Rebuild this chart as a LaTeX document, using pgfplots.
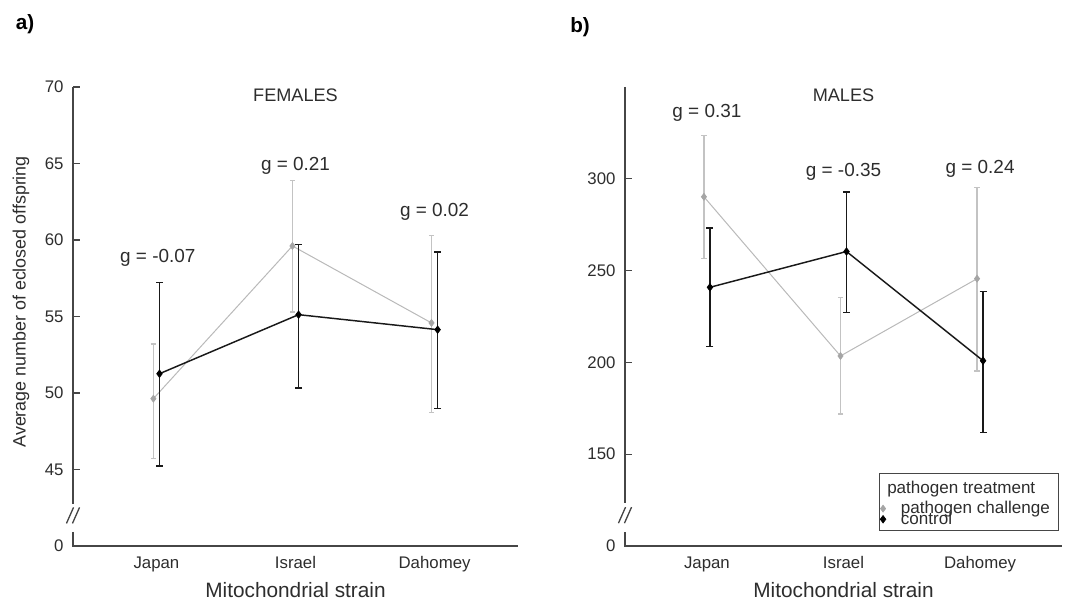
\documentclass[border=0pt]{standalone}
\usepackage{pgfplots}
\pgfplotsset{compat=1.18}
\usepackage{pgfplotstable}
\usepackage{fontspec}
\setmainfont{Liberation Sans}
\definecolor{gline}{RGB}{185,185,185}
\definecolor{gmark}{RGB}{165,165,165}
\definecolor{gerr}{RGB}{195,195,195}
\definecolor{kline}{RGB}{25,25,25}
\definecolor{axcol}{RGB}{70,70,70}
\definecolor{txt}{RGB}{45,45,45}

% females, pathogen challenge
\pgfplotstableread{
x y ep em
0.978 49.63 3.57 3.89
1.978 59.61 4.26 4.31
2.978 54.58 5.73 5.83
}\fpath
% females, control
\pgfplotstableread{
x y ep em
1.022 51.26 5.96 6.04
2.022 55.12 4.58 4.80
3.022 54.14 5.08 5.17
}\fctrl
% males, pathogen challenge
\pgfplotstableread{
x y ep em
0.978 290.2 33.2 33.4
1.978 203.5 31.8 31.6
2.978 245.6 49.7 50.3
}\mpath
% males, control
\pgfplotstableread{
x y ep em
1.022 240.9 32.2 32.3
2.022 260.4 32.3 33.1
3.022 200.9 37.7 39.0
}\mctrl

\tikzset{
  glab/.style={font=\fontsize{14.2}{16}\selectfont, text=txt},
  ptitle/.style={font=\fontsize{13.6}{16}\selectfont, text=txt},
}

\pgfplotsset{
  panel/.style={
    scale only axis, height=344.25pt,
    xmin=0.4, xmax=3.6, xtick={1,2,3}, xticklabels={Japan,Israel,Dahomey},
    axis line style={draw=none},
    ytick pos=left, tick align=inside,
    x tick style={draw=none},
    major tick length=5pt,
    y tick style={axcol, line width=0.8pt},
    clip=false,
    /pgf/number format/assume math mode=true,
    tick label style={font=\fontsize{12.6}{14}\selectfont, text=txt},
    xticklabel style={anchor=base, yshift=-17.25pt},
    yticklabel style={anchor=east, xshift=-3.6pt},
    xlabel={Mitochondrial strain},
    xlabel style={font=\fontsize{15.6}{18}\selectfont, text=txt, at={(axis description cs:0.5,-0.096)}, anchor=center},
  },
  gser/.style={color=gline, line width=0.75pt, mark=diamond*, mark size=2.6pt,
    mark options={draw=gmark, fill=gmark, line width=0.5pt},
    legend image code/.code={\draw[##1, only marks] plot coordinates {(2.6pt,0pt)};},
    error bars/.cd, y dir=both, y explicit,
    error bar style={gerr, line width=0.9pt},
    error mark options={rotate=90, gerr, mark size=2pt, line width=0.9pt}},
  kser/.style={color=kline, line width=1.1pt, mark=diamond*, mark size=2.8pt,
    mark options={draw=black, fill=black, line width=0.5pt},
    legend image code/.code={\draw[##1, only marks] plot coordinates {(2.6pt,0.4pt)};},
    error bars/.cd, y dir=both, y explicit,
    error bar style={kline, line width=1.1pt},
    error mark options={rotate=90, kline, mark size=2.6pt, line width=1.1pt}},
}

\begin{document}
\begin{tikzpicture}
\useasboundingbox (0,0) rectangle (801pt,450pt);

\node[font=\bfseries\fontsize{15.5}{18}\selectfont] at (18.75pt,432pt) {a)};
\node[font=\bfseries\fontsize{15.5}{18}\selectfont] at (435pt,429.75pt) {b)};

% ---------------- FEMALES ----------------
\begin{axis}[panel, at={(54.75pt,40.5pt)}, anchor=south west, width=333.75pt,
  ymin=40, ymax=70, ytick={40,45,50,55,60,65,70}, yticklabels={0,45,50,55,60,65,70},
  ylabel={Average number of eclosed offspring},
  ylabel style={font=\fontsize{13.4}{15}\selectfont, text=txt, at={(axis description cs:-0.117,0.532)}, anchor=center},
]
\addplot[gser] table[x=x, y=y, y error plus=ep, y error minus=em] {\fpath};
\addplot[kser] table[x=x, y=y, y error plus=ep, y error minus=em] {\fctrl};

\draw[axcol, line width=1pt] (axis cs:0.4,70) -- (axis cs:0.4,42.77);
\draw[axcol, line width=1pt] (axis cs:0.4,40.92) -- (axis cs:0.4,40) -- (axis cs:3.6,40);
\draw[axcol, line width=1pt] ([shift={(-4.9pt,-6pt)}]axis cs:0.4,42.0) -- ([shift={(0.4pt,6pt)}]axis cs:0.4,42.0);
\draw[axcol, line width=1pt] ([shift={(-0.4pt,-6pt)}]axis cs:0.4,42.0) -- ([shift={(4.9pt,6pt)}]axis cs:0.4,42.0);

\node[ptitle] at (axis cs:2,69.48) {FEMALES};
\node[glab] at (axis cs:1.01,58.81) {g = -0.07};
\node[glab] at (axis cs:2,64.83) {g = 0.21};
\node[glab] at (axis cs:3,61.82) {g = 0.02};
\end{axis}

% ---------------- MALES ----------------
\begin{axis}[panel, at={(468.75pt,40.5pt)}, anchor=south west, width=327.75pt,
  ymin=100, ymax=350, ytick={100,150,200,250,300}, yticklabels={0,150,200,250,300},
  legend cell align=left,
  legend style={at={(0.5812,0.1122)}, anchor=north west, draw=none, fill=none,
    font=\fontsize{12.8}{14}\selectfont, text=txt, inner xsep=0.75pt, inner ysep=5pt,
    row sep=-2.4pt, column sep=11.25pt, nodes={inner sep=0pt}},
]
\addplot[gser] table[x=x, y=y, y error plus=ep, y error minus=em] {\mpath};
\addlegendentry{pathogen challenge}
\addplot[kser] table[x=x, y=y, y error plus=ep, y error minus=em] {\mctrl};
\addlegendentry{control}

% legend frame and title
\draw[axcol, line width=0.7pt] (axis description cs:0.5812,0.1590) rectangle (axis description cs:0.9908,0.0349);
\node[anchor=base west, font=\fontsize{12.8}{14}\selectfont, text=txt, inner sep=0pt] at (axis description cs:0.5995,0.1148) {pathogen treatment};

\draw[axcol, line width=1pt] (axis cs:0.4,350) -- (axis cs:0.4,123.3);
\draw[axcol, line width=1pt] (axis cs:0.4,107.5) -- (axis cs:0.4,100) -- (axis cs:3.6,100);
\draw[axcol, line width=1pt] ([shift={(-4.9pt,-6pt)}]axis cs:0.4,116.8) -- ([shift={(0.4pt,6pt)}]axis cs:0.4,116.8);
\draw[axcol, line width=1pt] ([shift={(-0.4pt,-6pt)}]axis cs:0.4,116.8) -- ([shift={(4.9pt,6pt)}]axis cs:0.4,116.8);

\node[ptitle] at (axis cs:2,345.3) {MALES};
\node[glab] at (axis cs:1,336) {g = 0.31};
\node[glab] at (axis cs:2,303.8) {g = -0.35};
\node[glab] at (axis cs:3,305.5) {g = 0.24};
\end{axis}
\end{tikzpicture}
\end{document}
